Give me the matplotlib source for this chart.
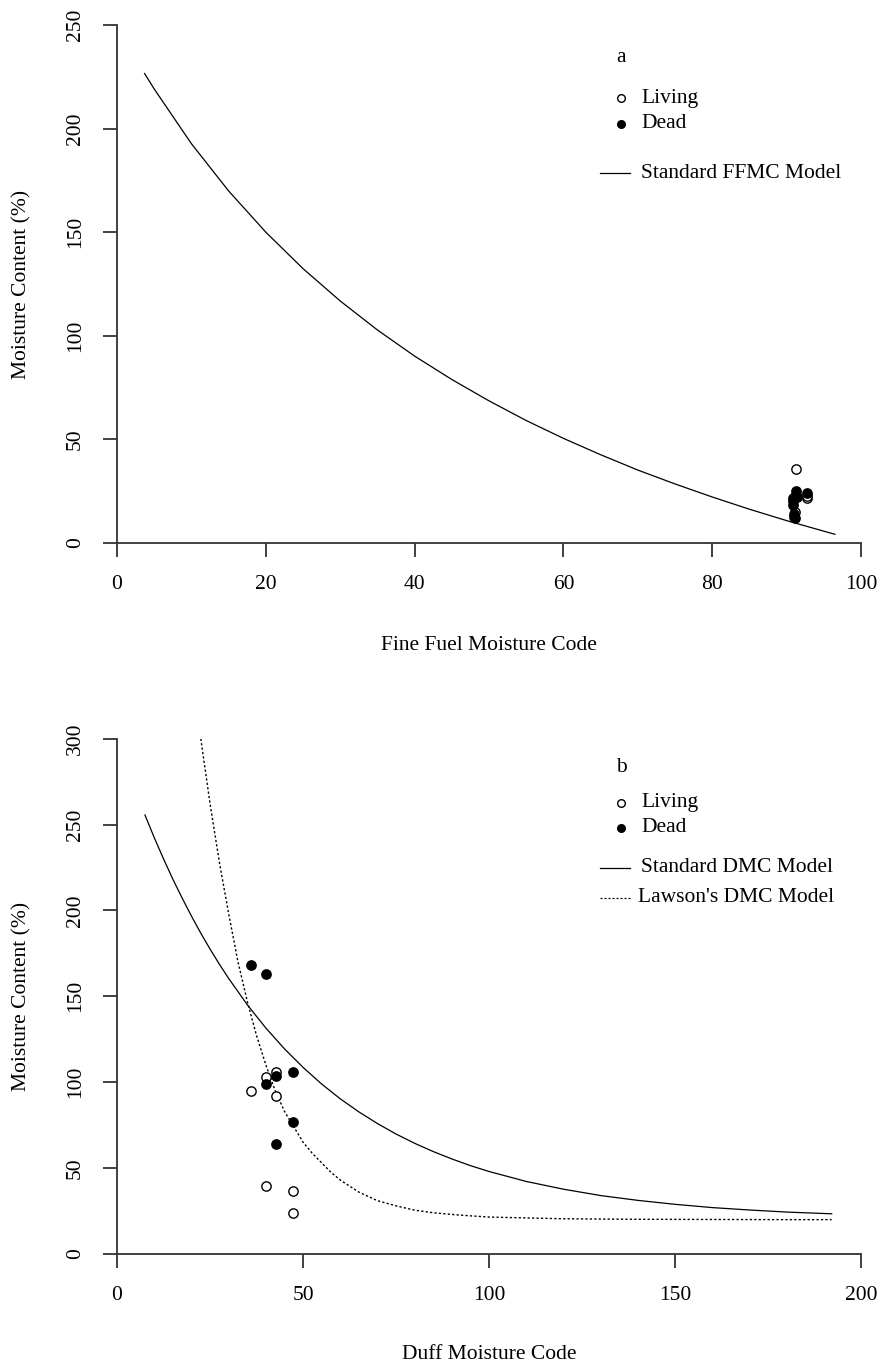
"""Moisture content of fine fuel and duff against FWI codes."""
import matplotlib
matplotlib.use("Agg")
import matplotlib.pyplot as plt

plt.rcParams['font.family'] = ['Liberation Serif', 'DejaVu Serif']

# panel a: fine fuel moisture code
ffmc_living = [91.3, 92.7, 91.1, 90.9, 92.7, 91.3, 91.0]
mc_living_a = [35.6, 21.5, 15.0, 20.5, 22.5, 23.0, 12.5]
ffmc_dead = [91.2, 92.7, 90.9, 90.8, 91.0, 91.1, 91.4]
mc_dead_a = [25.0, 24.0, 21.5, 18.5, 14.0, 12.0, 22.0]

ffmc_curve_x = [3.7, 5, 10, 15, 20, 25, 30, 35, 40, 45, 50, 55, 60, 65,
                70, 75, 80, 85, 90, 95, 96.5]
ffmc_curve_y = [226.6, 219.1, 192.7, 169.9, 150.0, 132.4, 116.8, 102.8,
                90.2, 78.9, 68.6, 59.1, 50.5, 42.6, 35.2, 28.5, 22.2, 16.3,
                10.8, 5.7, 4.2]

# panel b: duff moisture code
dmc_living = [42.7, 40.0, 36.0, 42.7, 40.0, 47.3, 47.3]
mc_living_b = [106.1, 103.2, 95.1, 92.0, 39.6, 36.9, 23.7]
dmc_dead = [36.0, 40.0, 42.7, 47.3, 40.0, 47.3, 42.7]
mc_dead_b = [168.0, 163.0, 103.6, 106.1, 99.0, 77.0, 64.0]

std_dmc_x = [7.5, 10, 12.5, 15, 17.5, 20, 22.5, 25, 27.5, 30, 35, 40, 45,
             50, 55, 60, 65, 70, 75, 80, 85, 90, 95, 100, 110, 120, 130,
             140, 150, 160, 170, 180, 192]
std_dmc_y = [255.6, 242.4, 230.0, 218.2, 207.2, 196.7, 186.8, 177.5, 168.7,
             160.4, 145.1, 131.5, 119.4, 108.6, 98.9, 90.3, 82.7, 75.9, 69.8,
             64.4, 59.6, 55.3, 51.4, 48.0, 42.2, 37.7, 34.0, 31.2, 28.9,
             27.0, 25.6, 24.4, 23.4]

lawson_x = [22.5, 25, 27.5, 30, 32.5, 35, 37.5, 40, 42.5, 45, 47.5, 50,
            52.5, 55, 57.5, 60, 62.5, 65, 67.5, 70, 75, 80, 85, 90, 95, 100,
            110, 120, 140, 160, 180, 192]
lawson_y = [300, 262, 228, 198, 170, 147, 127, 110, 95, 83, 74, 65, 58.5,
            53, 47.5, 43, 39.5, 36, 33.5, 31, 28, 25.5, 24, 23, 22.2, 21.5,
            21, 20.5, 20.2, 20.1, 20, 20]

FS = 15.5
AX_COL = '#333333'

fig = plt.figure(figsize=(8.82, 13.66), dpi=100)
ax_a = fig.add_axes([0.1327, 0.6025, 0.8435, 0.3792])
ax_b = fig.add_axes([0.1327, 0.0820, 0.8440, 0.3772])


def style_axes(ax, xlim, ylim, xticks, yticks, xlabel, xlab_y):
    ax.set_xlim(*xlim)
    ax.set_ylim(*ylim)
    ax.set_xticks(xticks)
    ax.set_yticks(yticks)
    for side in ('top', 'right'):
        ax.spines[side].set_visible(False)
    for side in ('left', 'bottom'):
        ax.spines[side].set_color(AX_COL)
        ax.spines[side].set_linewidth(1.3)
    ax.tick_params(direction='out', length=10, width=1.3, color=AX_COL,
                   labelsize=FS, pad=13)
    ax.tick_params(axis='y', labelrotation=90)
    for lab in ax.get_yticklabels():
        lab.set_va('center')
    ax.set_xlabel(xlabel, fontsize=FS)
    ax.xaxis.label.set_va('center')
    ax.xaxis.set_label_coords(0.5, xlab_y)
    ax.set_ylabel('Moisture Content (%)', fontsize=FS)
    ax.yaxis.label.set_va('center')
    ax.yaxis.set_label_coords(-0.128, 0.5)


style_axes(ax_a, (0, 100), (0, 250), range(0, 101, 20), range(0, 251, 50),
           'Fine Fuel Moisture Code', -0.197)
style_axes(ax_b, (0, 200), (0, 300), range(0, 201, 50), range(0, 301, 50),
           'Duff Moisture Code', -0.196)

# model curves
ax_a.plot(ffmc_curve_x, ffmc_curve_y, color='black', lw=0.9)
ax_b.plot(std_dmc_x, std_dmc_y, color='black', lw=0.9)
ax_b.plot(lawson_x, lawson_y, color='black', lw=1.0, dashes=(1.6, 1.6))

# observations
pt = dict(s=45, linewidths=1.0, edgecolors='black', zorder=3)
ax_a.scatter(ffmc_living, mc_living_a, facecolors='white', **pt)
ax_a.scatter(ffmc_dead, mc_dead_a, facecolors='black', **pt)
ax_b.scatter(dmc_living, mc_living_b, facecolors='white', **pt)
ax_b.scatter(dmc_dead, mc_dead_b, facecolors='black', **pt)


def px(x, y):
    return x / 882, 1 - y / 1366


def legend_block(tag, tag_y, rows):
    fig.text(*px(621, tag_y), tag, fontsize=FS, ha='center', va='center')
    for kind, y, text, tx in rows:
        if kind in ('open', 'filled'):
            fc = 'white' if kind == 'open' else 'black'
            fig.lines.append(plt.Line2D([621 / 882], [1 - y / 1366],
                                        marker='o', ms=5.5, mfc=fc,
                                        mec='black', mew=1.0, ls='none',
                                        transform=fig.transFigure))
        else:
            ls = '-' if kind == 'solid' else (0, (1.6, 1.6))
            fig.lines.append(plt.Line2D([600 / 882, 630 / 882],
                                        [1 - y / 1366] * 2, color='black',
                                        lw=0.9, ls=ls,
                                        transform=fig.transFigure))
        fig.text(*px(tx, y), text, fontsize=FS, ha='left', va='center')


legend_block('a', 57, [('open', 98, 'Living', 641),
                       ('filled', 124, 'Dead', 641),
                       ('solid', 173, 'Standard FFMC Model', 641)])
legend_block('b', 768, [('open', 803, 'Living', 641),
                        ('filled', 828, 'Dead', 641),
                        ('solid', 868, 'Standard DMC Model', 641),
                        ('dotted', 898, "Lawson's DMC Model", 638)])

fig.savefig('out.png', dpi=100, facecolor='white')
